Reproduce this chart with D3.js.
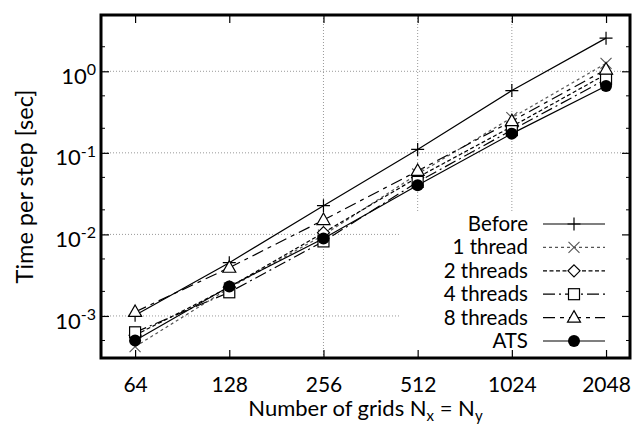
<!DOCTYPE html>
<html>
<head>
<meta charset="utf-8">
<script src="https://cdn.jsdelivr.net/npm/d3@7"></script>
<style>
  body { margin: 0; background: #fff; }
  svg { display: block; }
  text { font-family: Lato, "Open Sans", sans-serif; fill: #000; }
</style>
</head>
<body>
<script>
// grid sizes along x
var grids = [64, 128, 256, 512, 1024, 2048];
var xTickLabels = ["64", "128", "256", "512", "1024", "2048"];
var xGrid = [256, 512, 1024];
var yTicks = [1e-3, 1e-2, 1e-1, 1];

// time per step [sec]
var before   = [1.02e-3, 4.5e-3, 0.0225, 0.110, 0.58, 2.55];
var thread1  = [4.2e-4, 2.2e-3, 0.0098, 0.055, 0.27, 1.25];
var thread2  = [5.8e-4, 2.25e-3, 0.0105, 0.050, 0.21, 0.92];
var thread4  = [6.3e-4, 1.95e-3, 0.0082, 0.044, 0.19, 0.80];
var thread8  = [1.12e-3, 3.9e-3, 0.0150, 0.060, 0.245, 1.05];
var ats      = [5.0e-4, 2.3e-3, 0.0089, 0.040, 0.172, 0.66];

var seriesNames = ["Before", "1 thread", "2 threads", "4 threads", "8 threads", "ATS"];
var seriesData = [before, thread1, thread2, thread4, thread8, ats];

var W = 632, H = 428;
var L = 101, R = 630, T = 15, B = 358;

var svg = d3.select("body").append("svg")
  .attr("width", W).attr("height", H);

var x = d3.scaleLog().base(2).domain([49.8, 2443]).range([L, R]);
var y = d3.scaleLog().domain([3.05e-4, 4.9]).range([B, T]);

// line / marker styles, gnuplot-ish
var dash = [null, "3,3", "4,2.5", "12,4,2,4", "12,5,4,5", null];
var strokeCol = ["#000", "#555", "#000", "#000", "#000", "#000"];

// grid
var grid = svg.append("g");
grid.selectAll(".gx").data(xGrid).enter().append("line")
  .attr("x1", d => x(d)).attr("x2", d => x(d))
  .attr("y1", T).attr("y2", B)
  .attr("stroke", "#999").attr("stroke-width", 1).attr("stroke-dasharray", "1,2");
grid.selectAll(".gy").data(yTicks).enter().append("line")
  .attr("x1", L).attr("x2", R)
  .attr("y1", d => y(d)).attr("y2", d => y(d))
  .attr("stroke", "#999").attr("stroke-width", 1).attr("stroke-dasharray", "1,2");

// key background erases the grid
svg.append("rect")
  .attr("x", 400).attr("y", 212).attr("width", 229).attr("height", 144)
  .attr("fill", "#fff");

// markers
function marker(g, i, cx, cy) {
  var s = 6.5;
  if (i === 0) {
    g.append("path").attr("d", `M${cx - s},${cy}H${cx + s}M${cx},${cy - s}V${cy + s}`)
      .attr("stroke", "#000").attr("stroke-width", 1.2).attr("fill", "none");
  } else if (i === 1) {
    g.append("path").attr("d", `M${cx - 5.5},${cy - 5.5}L${cx + 5.5},${cy + 5.5}M${cx - 5.5},${cy + 5.5}L${cx + 5.5},${cy - 5.5}`)
      .attr("stroke", "#555").attr("stroke-width", 1.1).attr("fill", "none");
  } else if (i === 2) {
    g.append("path").attr("d", `M${cx},${cy - 6}L${cx + 6},${cy}L${cx},${cy + 6}L${cx - 6},${cy}Z`)
      .attr("stroke", "#000").attr("stroke-width", 1.2).attr("fill", "#fff");
  } else if (i === 3) {
    g.append("rect").attr("x", cx - 5.5).attr("y", cy - 5.5).attr("width", 11).attr("height", 11)
      .attr("stroke", "#000").attr("stroke-width", 1.2).attr("fill", "#fff");
  } else if (i === 4) {
    g.append("path").attr("d", `M${cx},${cy - 7}L${cx + 6.5},${cy + 4.5}L${cx - 6.5},${cy + 4.5}Z`)
      .attr("stroke", "#000").attr("stroke-width", 1.2).attr("fill", "#fff");
  } else {
    g.append("circle").attr("cx", cx).attr("cy", cy).attr("r", 6).attr("fill", "#000");
  }
}

var line = d3.line().x((d, j) => x(grids[j])).y(d => y(d));

var plot = svg.append("g");
seriesData.forEach(function (vals, i) {
  plot.append("path").datum(vals)
    .attr("d", line)
    .attr("fill", "none")
    .attr("stroke", strokeCol[i])
    .attr("stroke-width", 1.2)
    .attr("stroke-dasharray", dash[i]);
});
seriesData.forEach(function (vals, i) {
  var g = plot.append("g");
  vals.forEach(function (v, j) { marker(g, i, x(grids[j]), y(v)); });
});

// axes with inward ticks
var axB = svg.append("g").attr("transform", `translate(0,${B})`)
  .call(d3.axisBottom(x).tickValues(grids).tickFormat((d, i) => xTickLabels[i])
    .tickSize(-8).tickPadding(19));
var axT = svg.append("g").attr("transform", `translate(0,${T})`)
  .call(d3.axisTop(x).tickValues(grids).tickFormat("").tickSize(-8));
var axL = svg.append("g").attr("transform", `translate(${L},0)`)
  .call(d3.axisLeft(y).tickValues(yTicks).tickSize(-8).tickPadding(5));
var axR = svg.append("g").attr("transform", `translate(${R},0)`)
  .call(d3.axisRight(y).tickValues(yTicks).tickFormat("").tickSize(-8));

[axB, axT, axL, axR].forEach(function (a) {
  a.select(".domain").remove();
  a.selectAll(".tick line").attr("stroke", "#000").attr("stroke-width", 1.2);
});
axB.selectAll("text").attr("font-size", 21).attr("font-family", "Lato");

axL.selectAll(".tick text").each(function (d) {
  var t = d3.select(this);
  t.text(null).attr("font-size", 22).attr("font-family", "Lato").attr("dy", "0.55em");
  t.append("tspan").text("10");
  t.append("tspan").attr("dy", "-0.55em").attr("font-size", 16).text(Math.round(Math.log10(d)));
});

// minor y ticks at 2 and 5
var minor = [];
[-4, -3, -2, -1, 0].forEach(function (e) {
  [2, 5].forEach(function (m) {
    var v = m * Math.pow(10, e);
    if (v > y.domain()[0] && v < y.domain()[1]) minor.push(v);
  });
});
svg.selectAll(".mt").data(minor).enter().append("path")
  .attr("d", d => `M${L},${y(d)}h4M${R},${y(d)}h-4`)
  .attr("stroke", "#000").attr("stroke-width", 1);

// frame
svg.append("rect")
  .attr("x", L).attr("y", T).attr("width", R - L).attr("height", B - T)
  .attr("fill", "none").attr("stroke", "#000").attr("stroke-width", 3);

// axis titles
svg.append("text")
  .attr("x", (L + R) / 2).attr("y", 416)
  .attr("text-anchor", "middle").attr("font-size", 22)
  .call(function (t) {
    t.append("tspan").text("Number of grids N");
    t.append("tspan").attr("dy", 5).attr("font-size", 15).text("x");
    t.append("tspan").attr("dy", -5).text(" = N");
    t.append("tspan").attr("dy", 5).attr("font-size", 15).text("y");
  });

svg.append("text")
  .attr("transform", `translate(33,${(T + B) / 2}) rotate(-90)`)
  .attr("text-anchor", "middle").attr("font-size", 23.5)
  .text("Time per step [sec]");

// key
var key = svg.append("g");
seriesNames.forEach(function (name, i) {
  var ky = 224 + i * 23.4;
  key.append("text")
    .attr("x", 528).attr("y", ky + 7)
    .attr("text-anchor", "end").attr("font-size", 20.5)
    .text(name);
  key.append("line")
    .attr("x1", 543).attr("x2", 605).attr("y1", ky).attr("y2", ky)
    .attr("stroke", strokeCol[i]).attr("stroke-width", 1.2)
    .attr("stroke-dasharray", dash[i]);
  marker(key, i, 574, ky);
});
</script>
</body>
</html>
